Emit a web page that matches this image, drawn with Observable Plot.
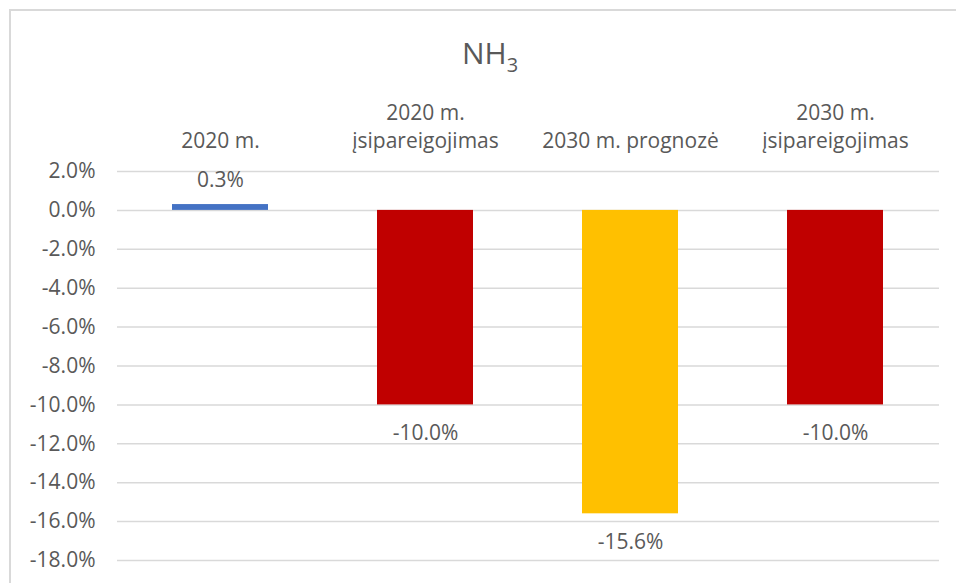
<!DOCTYPE html>
<html>
<head>
<meta charset="utf-8">
<script src="https://cdn.jsdelivr.net/npm/d3@7"></script>
<script src="https://cdn.jsdelivr.net/npm/@observablehq/plot@0.6"></script>
<style>
  html, body { margin: 0; padding: 0; background: #fff; overflow: hidden; }
  #wrap { position: relative; width: 956px; height: 583px; overflow: hidden; font-family: "Open Sans", sans-serif; color: #595959; }
  #frame { position: absolute; left: 9px; top: 9px; width: 1200px; height: 1200px; border-top: 2px solid #d9d9d9; border-left: 2px solid #d9d9d9; box-sizing: border-box; }
  #title { position: relative; width: 980px; height: 90px; box-sizing: border-box; padding-top: 38px; line-height: 30px; font-size: 30px; text-align: center; color: #595959; }
  #title sub { font-size: 20px; line-height: 0; vertical-align: -8px; }
  #chart { position: relative; }
  #chart svg { display: block; }
</style>
</head>
<body>
<div id="wrap">
  <div id="frame"></div>
  <div id="title">NH<sub>3</sub></div>
  <div id="chart"></div>
</div>
<script>
// ---- data ----
const categories = ["2020 m.", "2020 m.\nįsipareigojimas", "2030 m. prognozė", "2030 m.\nįsipareigojimas"];
const values = [0.3, -10.0, -15.6, -10.0];
const yTicks = [2, 0, -2, -4, -6, -8, -10, -12, -14, -16, -18];

// ---- styling ----
const barColors = ["#4472C4", "#C00000", "#FFC000", "#C00000"];
const rows = categories.map((c, i) => ({ category: c, value: values[i], color: barColors[i] }));
const fmt = v => v.toFixed(1) + "%";

const plot = Plot.plot({
  width: 956,
  height: 493,
  marginTop: 81,
  marginBottom: 23,
  marginLeft: 117,
  marginRight: 17,
  style: { fontFamily: "Open Sans, sans-serif", fontSize: "21px", color: "#595959", background: "transparent" },
  x: { domain: categories, paddingInner: 0.53, paddingOuter: 0.265, label: null },
  y: { domain: [-18, 2], label: null },
  color: { type: "identity" },
  marks: [
    Plot.gridY(yTicks, { stroke: "#d9d9d9", strokeOpacity: 1, strokeWidth: 1.5 }),
    Plot.axisY(yTicks, { tickSize: 0, tickPadding: 22, tickFormat: fmt, label: null, fill: "#595959" }),
    Plot.axisX({ anchor: "top", tickSize: 0, tickPadding: 24, label: null, fill: "#595959", lineHeight: 1.33 }),
    Plot.barY(rows, { x: "category", y: "value", fill: "color" }),
    Plot.text(rows.filter(d => d.value >= 0), { x: "category", y: "value", text: d => fmt(d.value), dy: -24, fill: "#595959" }),
    Plot.text(rows.filter(d => d.value < 0), { x: "category", y: "value", text: d => fmt(d.value), dy: 28, fill: "#595959" })
  ]
});
document.getElementById("chart").appendChild(plot);
</script>
</body>
</html>
